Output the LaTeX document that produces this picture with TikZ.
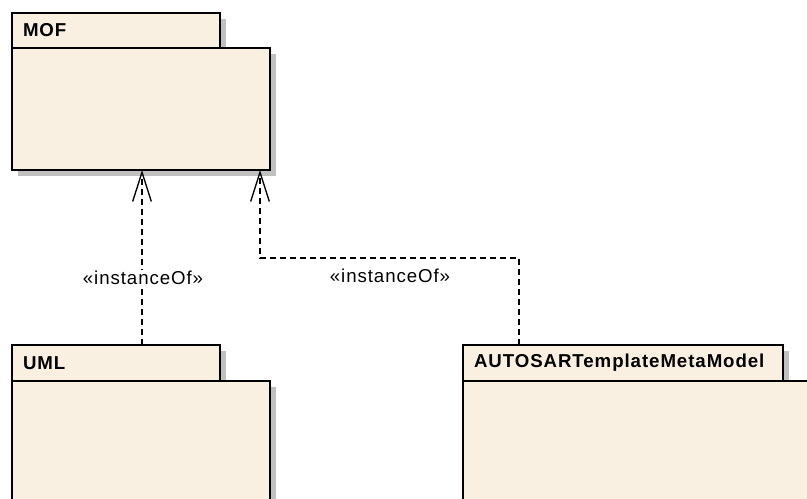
\documentclass[tikz,border=0pt]{standalone}
\usepackage{fontspec}
\setmainfont{Liberation Sans}[LetterSpace=5]
\usetikzlibrary{arrows.meta,shadows}
\definecolor{pkgfill}{HTML}{FAF0E1}
\definecolor{shadowgray}{HTML}{C0C0C0}
\begin{document}
\begin{tikzpicture}[x=0.75pt,y=-0.75pt,
  pkg/.style={draw=black, line width=1.5pt, fill=pkgfill, anchor=north west, inner sep=0pt, outer sep=0pt,
    drop shadow={shadow xshift=4.5pt, shadow yshift=-4.5pt, opacity=1, fill=shadowgray}},
  tab/.style={pkg, inner xsep=8.25pt, align=left, font=\fontsize{14pt}{15pt}\selectfont\bfseries},
  dep/.style={draw=black, line width=1pt, dash pattern=on 4.5pt off 3pt,
    -{Straight Barb[length=22pt,width=14pt,line width=1pt]}},
  lbl/.style={font=\fontsize{14pt}{15pt}\selectfont, inner sep=1pt, fill=white}]
\useasboundingbox (0,0) rectangle (807,499);
\clip (0,0) rectangle (807,499);
\node[tab, text width=139.5pt, minimum height=26.25pt] (moftab) at (12,13) {MOF};
\node[pkg, minimum width=193.5pt, minimum height=91.5pt] (mof) at (12,48) {};
\node[tab, text width=139.5pt, minimum height=27pt] (umltab) at (12,345) {UML};
\node[pkg, minimum width=193.5pt, minimum height=105pt] (uml) at (12,381) {};
\node[tab, text width=223.5pt, minimum height=27pt] (arttab) at (463,345) {AUTOSARTemplateMetaModel};
\node[pkg, minimum width=300pt, minimum height=105pt] (art) at (463,381) {};
\coordinate (c1) at (142,0);
\coordinate (c2) at (519,258);
\coordinate (c3) at (260,258);
\draw[dep] (umltab.north -| c1) -- (mof.south -| c1);
\draw[dep] (arttab.north -| c2) -- (c2) -- (c3) -- (mof.south -| c3);
\node[lbl] (l1) at (143,278) {«instanceOf»};
\node[lbl] (l2) at (390,276) {«instanceOf»};
\end{tikzpicture}
\end{document}
